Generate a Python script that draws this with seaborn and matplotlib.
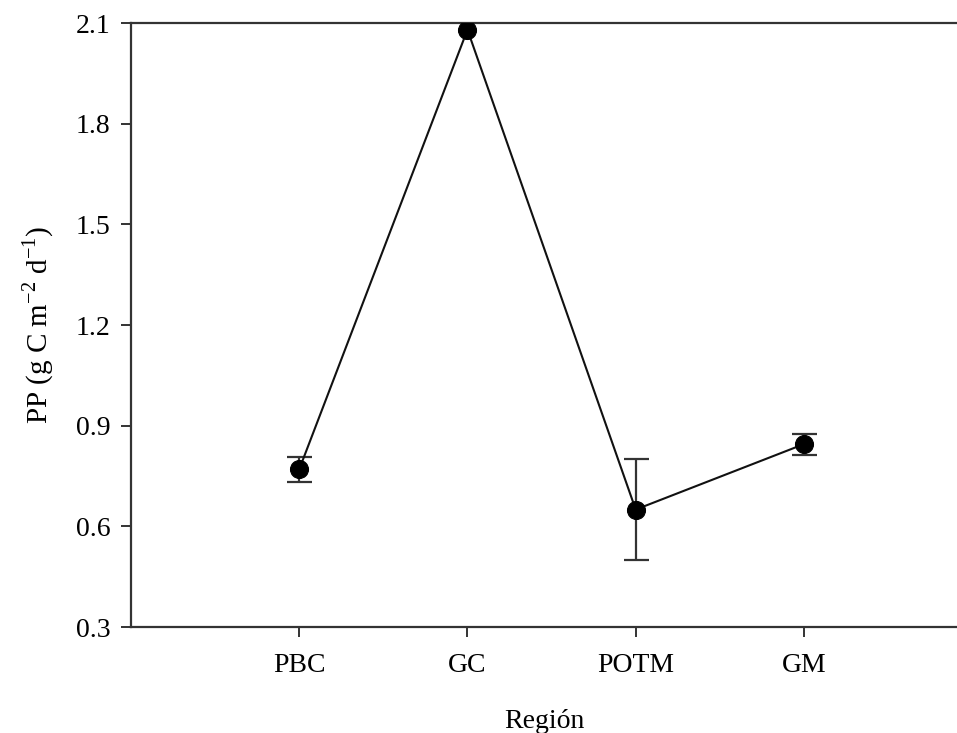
import numpy as np
import matplotlib
matplotlib.use("Agg")
import matplotlib.pyplot as plt
import seaborn as sns

regions = ["PBC", "GC", "POTM", "GM"]
pp = [0.77, 2.08, 0.65, 0.845]
pp_err = [0.037, 0.0, 0.15, 0.031]

sns.set_style("white")
plt.rcParams['font.family'] = ['Liberation Serif', 'DejaVu Serif']
plt.rcParams['mathtext.fontset'] = 'custom'
plt.rcParams['mathtext.rm'] = 'Liberation Serif'
plt.rcParams['text.color'] = 'black'
plt.rcParams['axes.labelcolor'] = 'black'
plt.rcParams['xtick.color'] = 'black'
plt.rcParams['ytick.color'] = 'black'

fig = plt.figure(figsize=(9.57, 7.33), dpi=100)
ax = fig.add_axes([0.1369, 0.1446, 0.8631, 0.824])

xpos = np.arange(1, len(regions) + 1)
has_err = np.array(pp_err) > 0
ax.errorbar(xpos[has_err], np.array(pp)[has_err], yerr=np.array(pp_err)[has_err],
            fmt='none', ecolor='#333333', elinewidth=1.6, capsize=9,
            capthick=1.6, zorder=2)
sns.lineplot(x=xpos, y=pp, ax=ax, color='#111111', linewidth=1.5,
             marker='o', markersize=13, markeredgecolor='black',
             markerfacecolor='black', zorder=3)

ax.set_xlim(0, 4.91)
ax.set_ylim(0.3, 2.1)
ax.set_xticks(xpos)
ax.set_xticklabels(regions)
ax.set_yticks(np.arange(0.3, 2.11, 0.3))
ax.set_yticklabels([f"{v:.1f}" for v in np.arange(0.3, 2.11, 0.3)])

ax.tick_params(axis='both', direction='out', length=7, width=1.4,
               color='#333333', labelcolor='black', labelsize=20, pad=8,
               bottom=True, left=True)
ax.tick_params(axis='x', pad=12)

for side in ['left', 'top', 'bottom']:
    ax.spines[side].set_visible(True)
    ax.spines[side].set_color('#333333')
    ax.spines[side].set_linewidth(1.6)
ax.spines['right'].set_visible(False)

ax.set_xlabel("Región", fontsize=20, labelpad=22)
ax.set_ylabel("PP (g C m$^{\\mathregular{-2}}$ d$^{\\mathregular{-1}}$)", fontsize=21, labelpad=14)

fig.savefig("out.png", dpi=100)
